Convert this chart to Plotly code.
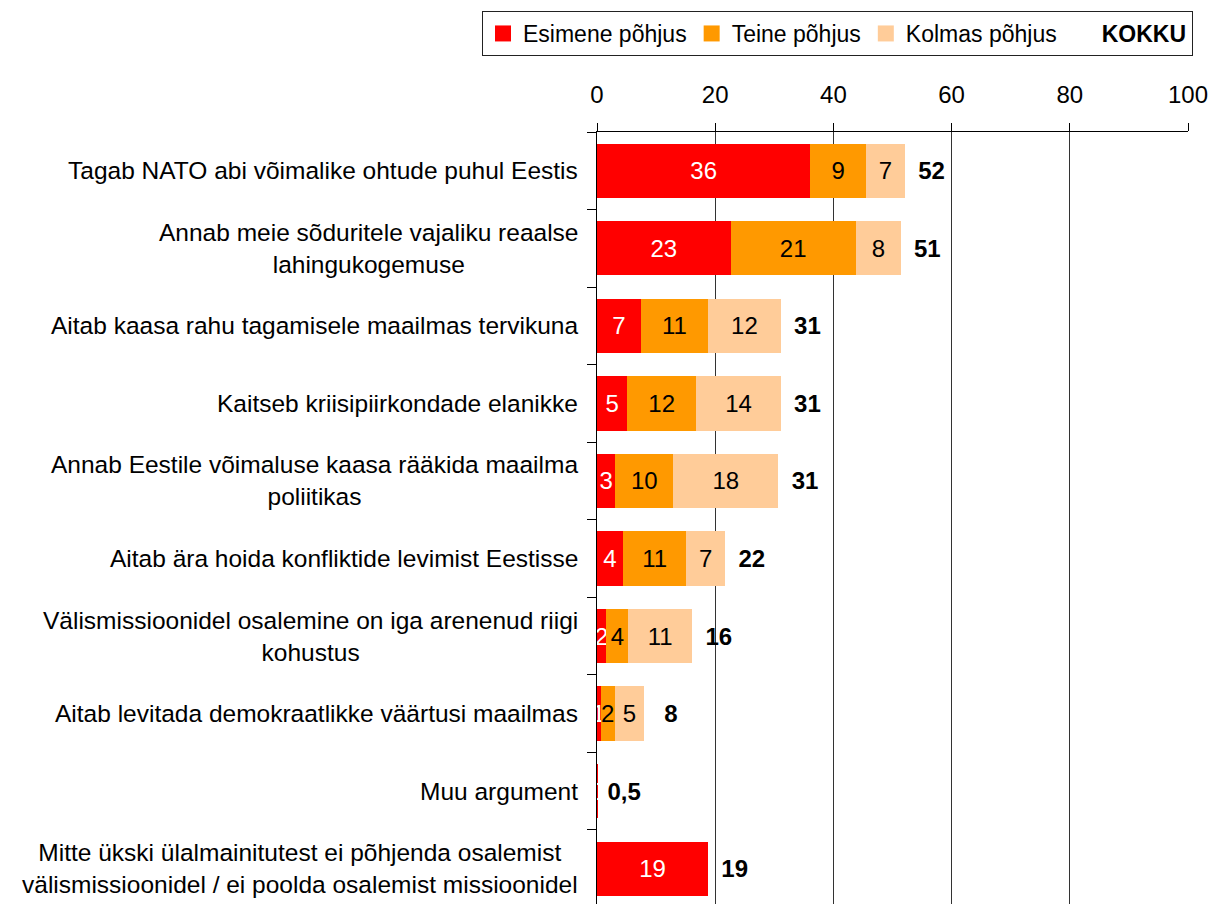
import plotly.graph_objects as go

categories = [
    "Tagab NATO abi võimalike ohtude puhul Eestis",
    "Annab meie sõduritele vajaliku reaalse<br>lahingukogemuse",
    "Aitab kaasa rahu tagamisele maailmas tervikuna",
    "Kaitseb kriisipiirkondade elanikke",
    "Annab Eestile võimaluse kaasa rääkida maailma<br>poliitikas",
    "Aitab ära hoida konfliktide levimist Eestisse",
    "Välismissioonidel osalemine on iga arenenud riigi<br>kohustus",
    "Aitab levitada demokraatlikke väärtusi maailmas",
    "Muu argument",
    "Mitte ükski ülalmainitutest ei põhjenda osalemist<br>välismissioonidel / ei poolda osalemist missioonidel",
]
esimene = [36.1, 22.6, 7.4, 5.1, 3.1, 4.4, 1.6, 0.6, 0.1, 18.8]
teine = [9.4, 21.2, 11.4, 11.7, 9.8, 10.7, 3.7, 2.4, 0.0, 0.0]
kolmas = [6.6, 7.6, 12.3, 14.3, 17.8, 6.6, 10.8, 5.0, 0.0, 0.0]
kokku = [52, 51, 31, 31, 31, 22, 16, 8, 0.5, 19]
series_names = ["Esimene põhjus", "Teine põhjus", "Kolmas põhjus"]
total_name = "KOKKU"
x_ticks = [0, 20, 40, 60, 80, 100]

# styles
FONT = "Liberation Sans, Arial, sans-serif"
FS = 24
FS_CAT = 24.5
FS_LEG = 23
colors = ["#FF0000", "#FF9900", "#FFCC99"]
text_colors = ["white", "black", "black"]
TOTAL_PAD = 9  # width of invisible carrier bar for total labels

W, H = 1211, 904
ML, MR, MT, MB = 597, 23, 132, 0
plot_h = H - MT - MB
plot_w = W - ML - MR
band_px = 77.55


def seg_label(v):
    return f"{v:.0f}" if v > 0 else ""


def total_label(t):
    return f"{t:.0f}" if t >= 1 else f"{t:.1f}".replace(".", ",")


fig = go.Figure()
for name, vals, col, tcol in zip(series_names, [esimene, teine, kolmas], colors, text_colors):
    fig.add_trace(go.Bar(
        y=categories, x=vals, orientation="h", name=name,
        marker=dict(color=col, line=dict(width=0)),
        text=[seg_label(v) for v in vals],
        textposition="inside", insidetextanchor="middle", textangle=0,
        constraintext="none",
        textfont=dict(family=FONT, size=FS, color=tcol),
        showlegend=False, hoverinfo="skip",
    ))

stack_end = [a + b + c for a, b, c in zip(esimene, teine, kolmas)]
fig.add_trace(go.Bar(
    y=categories, x=[TOTAL_PAD] * len(categories), base=stack_end, orientation="h",
    name=total_name,
    marker=dict(color="rgba(0,0,0,0)", line=dict(width=0)),
    text=[f"<b>{total_label(t)}</b>" for t in kokku],
    textposition="inside", insidetextanchor="middle", textangle=0,
    constraintext="none",
    textfont=dict(family=FONT, size=FS, color="black"),
    showlegend=False, hoverinfo="skip",
))

# legend entries
for name, col in zip(series_names, colors):
    fig.add_trace(go.Scatter(
        x=[None], y=[None], mode="markers", name=name,
        marker=dict(symbol="square", size=16, color=col, line=dict(width=0)),
    ))
fig.add_trace(go.Scatter(
    x=[None], y=[None], mode="markers", name=f"<b>{total_name}</b>",
    marker=dict(symbol="square", size=16, color="rgba(0,0,0,0)", line=dict(width=0)),
))

annotations = [
    dict(x=0, xref="paper", xanchor="right", xshift=-17,
         y=cat, yref="y", yanchor="middle", text=cat, showarrow=False,
         align="center", font=dict(family=FONT, size=FS_CAT, color="black"))
    for cat in categories
]

n_bands = plot_h / band_px
fig.update_layout(
    width=W, height=H,
    margin=dict(l=ML, r=MR, t=MT, b=MB, pad=0),
    barmode="stack", bargap=0.3,
    plot_bgcolor="white", paper_bgcolor="white",
    font=dict(family=FONT, size=FS, color="black"),
    annotations=annotations,
    legend=dict(
        orientation="h", x=(482 - ML) / plot_w, xanchor="left",
        y=1 + (MT - 11) / plot_h, yanchor="top",
        bordercolor="#222", borderwidth=1, bgcolor="white",
        font=dict(family=FONT, size=FS_LEG, color="black"),
        traceorder="normal",
    ),
    xaxis=dict(
        side="top", range=[0, 100], tickvals=x_ticks,
        ticks="outside", ticklen=8, tickcolor="black", tickwidth=1,
        showline=True, linecolor="black", linewidth=1,
        showgrid=True, gridcolor="#333", gridwidth=1, zeroline=False,
        tickfont=dict(family=FONT, size=FS, color="black"),
        ticklabelstandoff=10, fixedrange=True,
    ),
    yaxis=dict(
        type="category", categoryorder="array", categoryarray=categories,
        range=[-0.5 + n_bands, -0.5],
        showticklabels=False, ticks="outside", ticklen=9, tickcolor="black",
        tickson="boundaries", showline=True, linecolor="black", linewidth=1,
        showgrid=False, zeroline=False, fixedrange=True,
    ),
)

fig.write_html(
    "out.html",
    config={"displayModeBar": False},
    post_script="document.body.style.margin='0px';document.body.style.overflow='hidden';",
)
